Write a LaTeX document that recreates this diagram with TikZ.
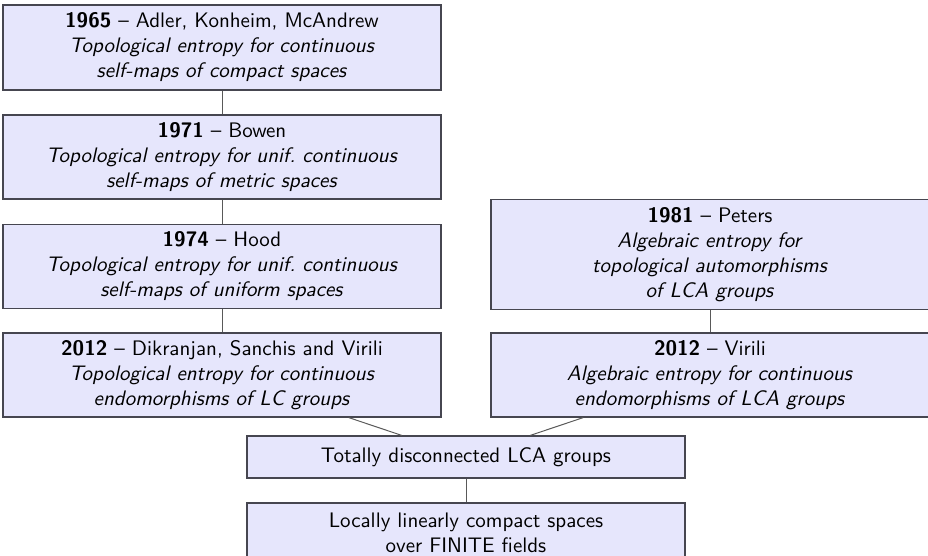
\documentclass[tikz,border=0pt]{standalone}
\definecolor{boxfill}{RGB}{230,230,252}
\definecolor{boxdraw}{RGB}{70,70,80}
\begin{document}
\begin{tikzpicture}[x=0.5pt,y=-0.5pt,
  box/.style={draw=boxdraw, line width=0.6pt, fill=boxfill, minimum width=219pt, text width=215pt, align=center, inner sep=0pt, font=\sffamily\fontsize{10.5}{12.5}\selectfont},
  link/.style={draw=black!65, line width=0.5pt}]
\useasboundingbox (0,0) rectangle (928,556);
\clip (0,0) rectangle (928,556);
\node[box, minimum height=42.5pt] (b1) at (222,47.5) {\textbf{1965} -- Adler, Konheim, McAndrew\\ \textit{Topological entropy for continuous}\\ \textit{self-maps of compact spaces}};
\node[box, minimum height=42pt] (b2) at (222,157) {\textbf{1971} -- Bowen\\ \textit{Topological entropy for unif.\ continuous}\\ \textit{self-maps of metric spaces}};
\node[box, minimum height=42pt] (b3) at (222,266.25) {\textbf{1974} -- Hood\\ \textit{Topological entropy for unif.\ continuous}\\ \textit{self-maps of uniform spaces}};
\node[box, minimum height=42pt] (b4) at (222,375) {\textbf{2012} -- Dikranjan, Sanchis and Virili\\ \textit{Topological entropy for continuous}\\ \textit{endomorphisms of LC groups}};
\node[box, minimum height=54.75pt] (p) at (710,254.5) {\textbf{1981} -- Peters\\ \textit{Algebraic entropy for}\\ \textit{topological automorphisms}\\ \textit{of LCA groups}};
\node[box, minimum height=42pt] (v) at (710,375) {\textbf{2012} -- Virili\\ \textit{Algebraic entropy for continuous}\\ \textit{endomorphisms of LCA groups}};
\node[box, minimum height=21pt] (td) at (466,457) {Totally disconnected LCA groups};
\node[box, minimum height=30pt] (ll) at (466,533) {Locally linearly compact spaces\\ over FINITE fields};
\draw[link] (b1) -- (b2);
\draw[link] (b2) -- (b3);
\draw[link] (b3) -- (b4);
\draw[link] (p) -- (v);
\draw[link] (b4) -- (td);
\draw[link] (v) -- (td);
\draw[link] (td) -- (ll);
\end{tikzpicture}
\end{document}
